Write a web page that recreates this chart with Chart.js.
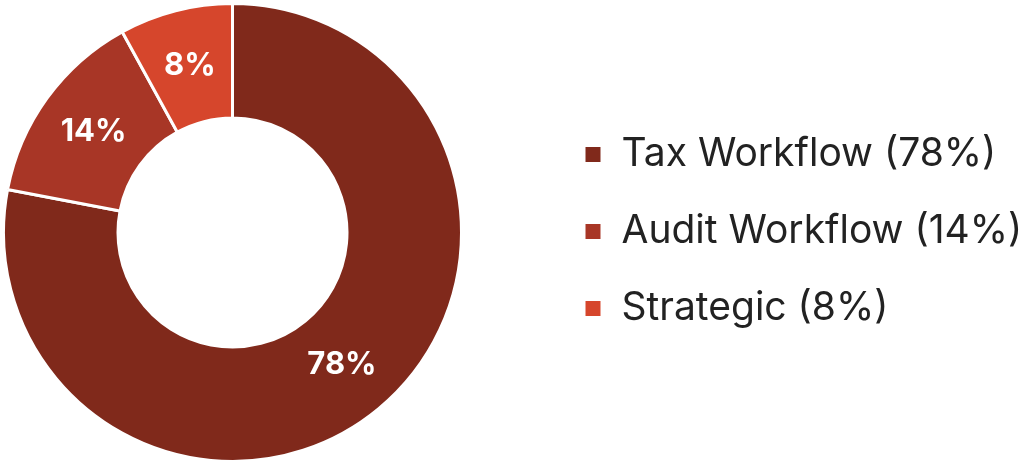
<!DOCTYPE html>
<html>
<head>
<meta charset="utf-8">
<script src="https://cdn.jsdelivr.net/npm/chart.js@4/dist/chart.umd.min.js"></script>
<style>
  html, body { margin: 0; padding: 0; background: #ffffff; }
  #wrap { width: 1022px; height: 465px; position: relative; }
</style>
</head>
<body>
<div id="wrap"><canvas id="chart"></canvas></div>
<script>
// Share of work by workflow
const categories = ['Tax Workflow', 'Audit Workflow', 'Strategic'];
const shares = [78, 14, 8];
const sliceColors = ['#80291b', '#a83626', '#d6462c'];

const legendLabels = categories.map((c, i) => c + ' (' + shares[i] + '%)');

// Percentage text drawn in the middle of each slice
const sliceLabels = {
  id: 'sliceLabels',
  afterDatasetsDraw(chart) {
    const ctx = chart.ctx;
    const meta = chart.getDatasetMeta(0);
    ctx.save();
    ctx.fillStyle = '#ffffff';
    ctx.font = '700 31px Inter, "Open Sans", sans-serif';
    ctx.textAlign = 'center';
    ctx.textBaseline = 'middle';
    meta.data.forEach((arc, i) => {
      const p = arc.tooltipPosition();
      ctx.fillText(shares[i] + '%', p.x, p.y);
    });
    ctx.restore();
  }
};

// Legend sits in the right part of the canvas; the ring keeps a square area on the left
const legendPlacement = {
  id: 'legendPlacement',
  beforeInit(chart) {
    const lg = chart.legend;
    const fit = lg.fit;
    lg.fit = function () {
      fit.call(this);
      this.width = 557;
    };
  },
  afterLayout(chart) {
    const lg = chart.legend;
    const w = lg.right - lg.left;
    lg.left = 546;
    lg.right = lg.left + w;
    lg.top -= 1;
    lg.bottom -= 1;
  }
};

new Chart(document.getElementById('chart'), {
  type: 'doughnut',
  data: {
    labels: legendLabels,
    datasets: [{
      data: shares,
      backgroundColor: sliceColors,
      borderColor: '#ffffff',
      borderWidth: 3,
      hoverOffset: 0
    }]
  },
  options: {
    responsive: true,
    maintainAspectRatio: false,
    animation: false,
    cutout: '50%',
    layout: { padding: 2 },
    plugins: {
      tooltip: { enabled: false },
      legend: {
        position: 'right',
        align: 'center',
        labels: {
          boxWidth: 18,
          boxHeight: 18,
          padding: 38,
          color: '#222222',
          font: { family: 'Inter, "Open Sans", sans-serif', size: 39, weight: '400' }
        }
      }
    }
  },
  plugins: [sliceLabels, legendPlacement]
});
</script>
</body>
</html>
